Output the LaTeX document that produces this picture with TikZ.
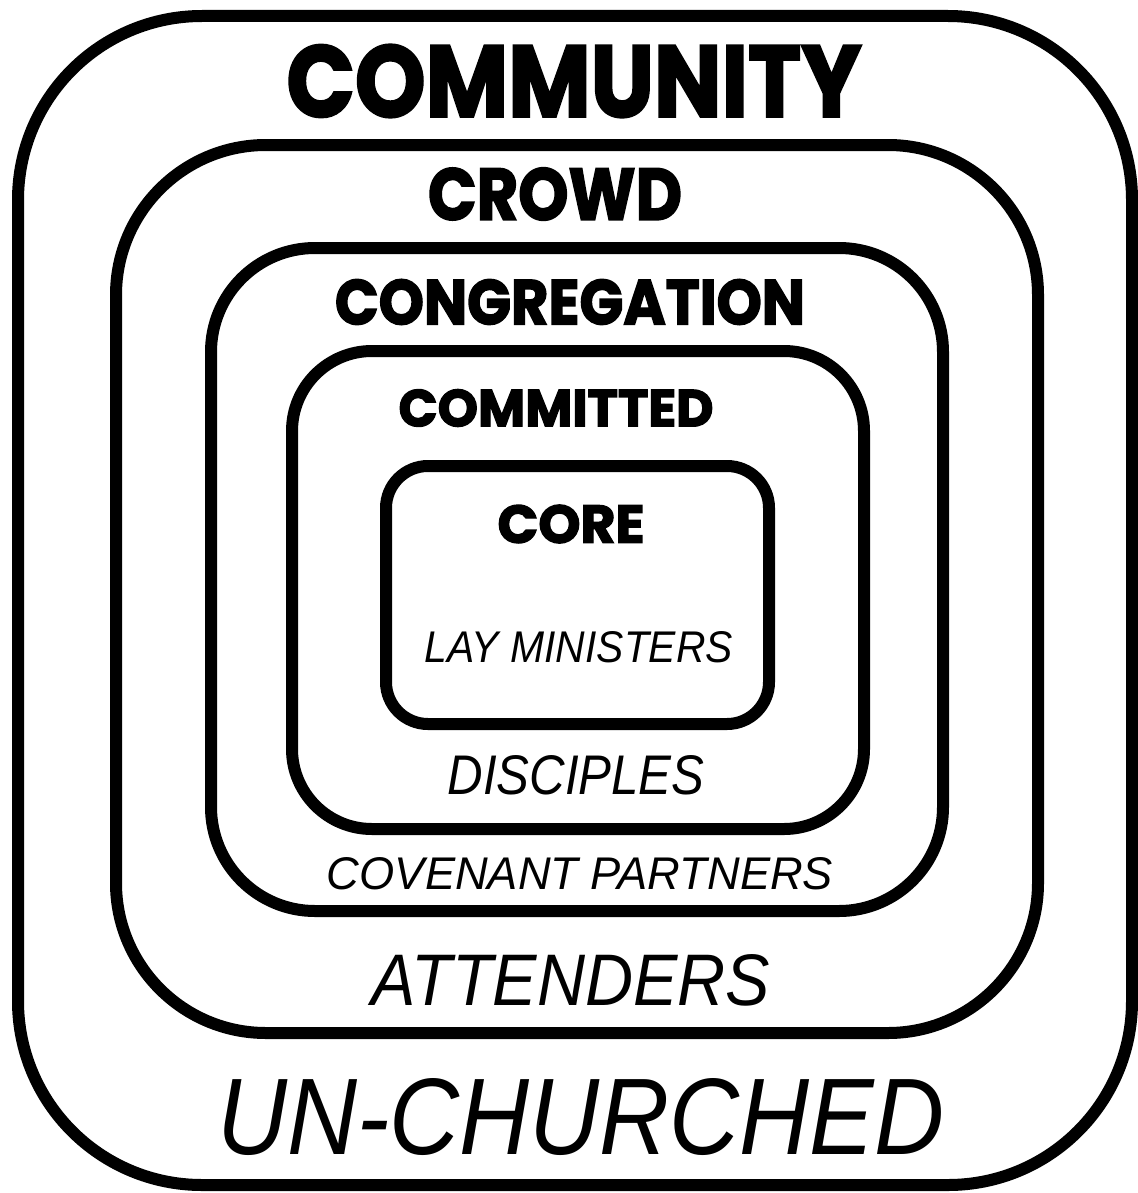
\documentclass[tikz,border=0pt]{standalone}
\usepackage{fontspec}
\usepackage{graphicx}
\setmainfont{Liberation Sans}
\newfontfamily\headfont{Poppins}[BoldFeatures={FakeBold=2.5}]
\newfontfamily\subfont{Liberation Sans}
\newlength\px
\setlength\px{0.5pt}
\newcommand{\fittext}[3]{\resizebox{#1\px}{#2\px}{#3}}
\tikzset{
  ring/.style={draw=black, line width=12\px, fill=white},
  lbl/.style={inner sep=0pt, anchor=center},
  head/.style={lbl, font=\headfont\bfseries},
  sub/.style={lbl, font=\subfont\itshape},
}
\begin{document}
\begin{tikzpicture}[x=0.5pt,y=-0.5pt]
\useasboundingbox (0,0) rectangle (1138,1193);
\fill[white] (0,0) rectangle (1138,1193);
% rings
\draw[ring, rounded corners=92pt] (18,16) rectangle (1132,1185);
\draw[ring, rounded corners=75pt] (116,145) rectangle (1038,1033);
\draw[ring, rounded corners=52pt] (211,248) rectangle (943,911);
\draw[ring, rounded corners=40pt] (292,351) rectangle (864,829);
\draw[ring, rounded corners=21pt] (386,466) rectangle (769,724);
% headings
\node[head] (community) at (574,81) {\fittext{575}{72}{COMMUNITY}};
\node[head] (crowd) at (555,194) {\fittext{254}{52}{CROWD}};
\node[head] (congregation) at (570,302) {\fittext{470}{45}{CONGREGATION}};
\node[head] (committed) at (556,408) {\fittext{315}{37}{COMMITTED}};
\node[head] (core) at (571,524) {\fittext{147}{38}{CORE}};
% sub labels
\node[sub] (lay) at (579,647) {\fittext{308}{31}{LAY MINISTERS}};
\node[sub] (disciples) at (576,775) {\fittext{257}{39}{DISCIPLES}};
\node[sub] (covenant) at (580,874) {\fittext{506}{32}{COVENANT PARTNERS}};
\node[sub] (attenders) at (571,980) {\fittext{398}{51}{ATTENDERS}};
\node[sub] (unchurched) at (581,1117) {\fittext{727}{76}{UN-CHURCHED}};
\end{tikzpicture}
\end{document}
